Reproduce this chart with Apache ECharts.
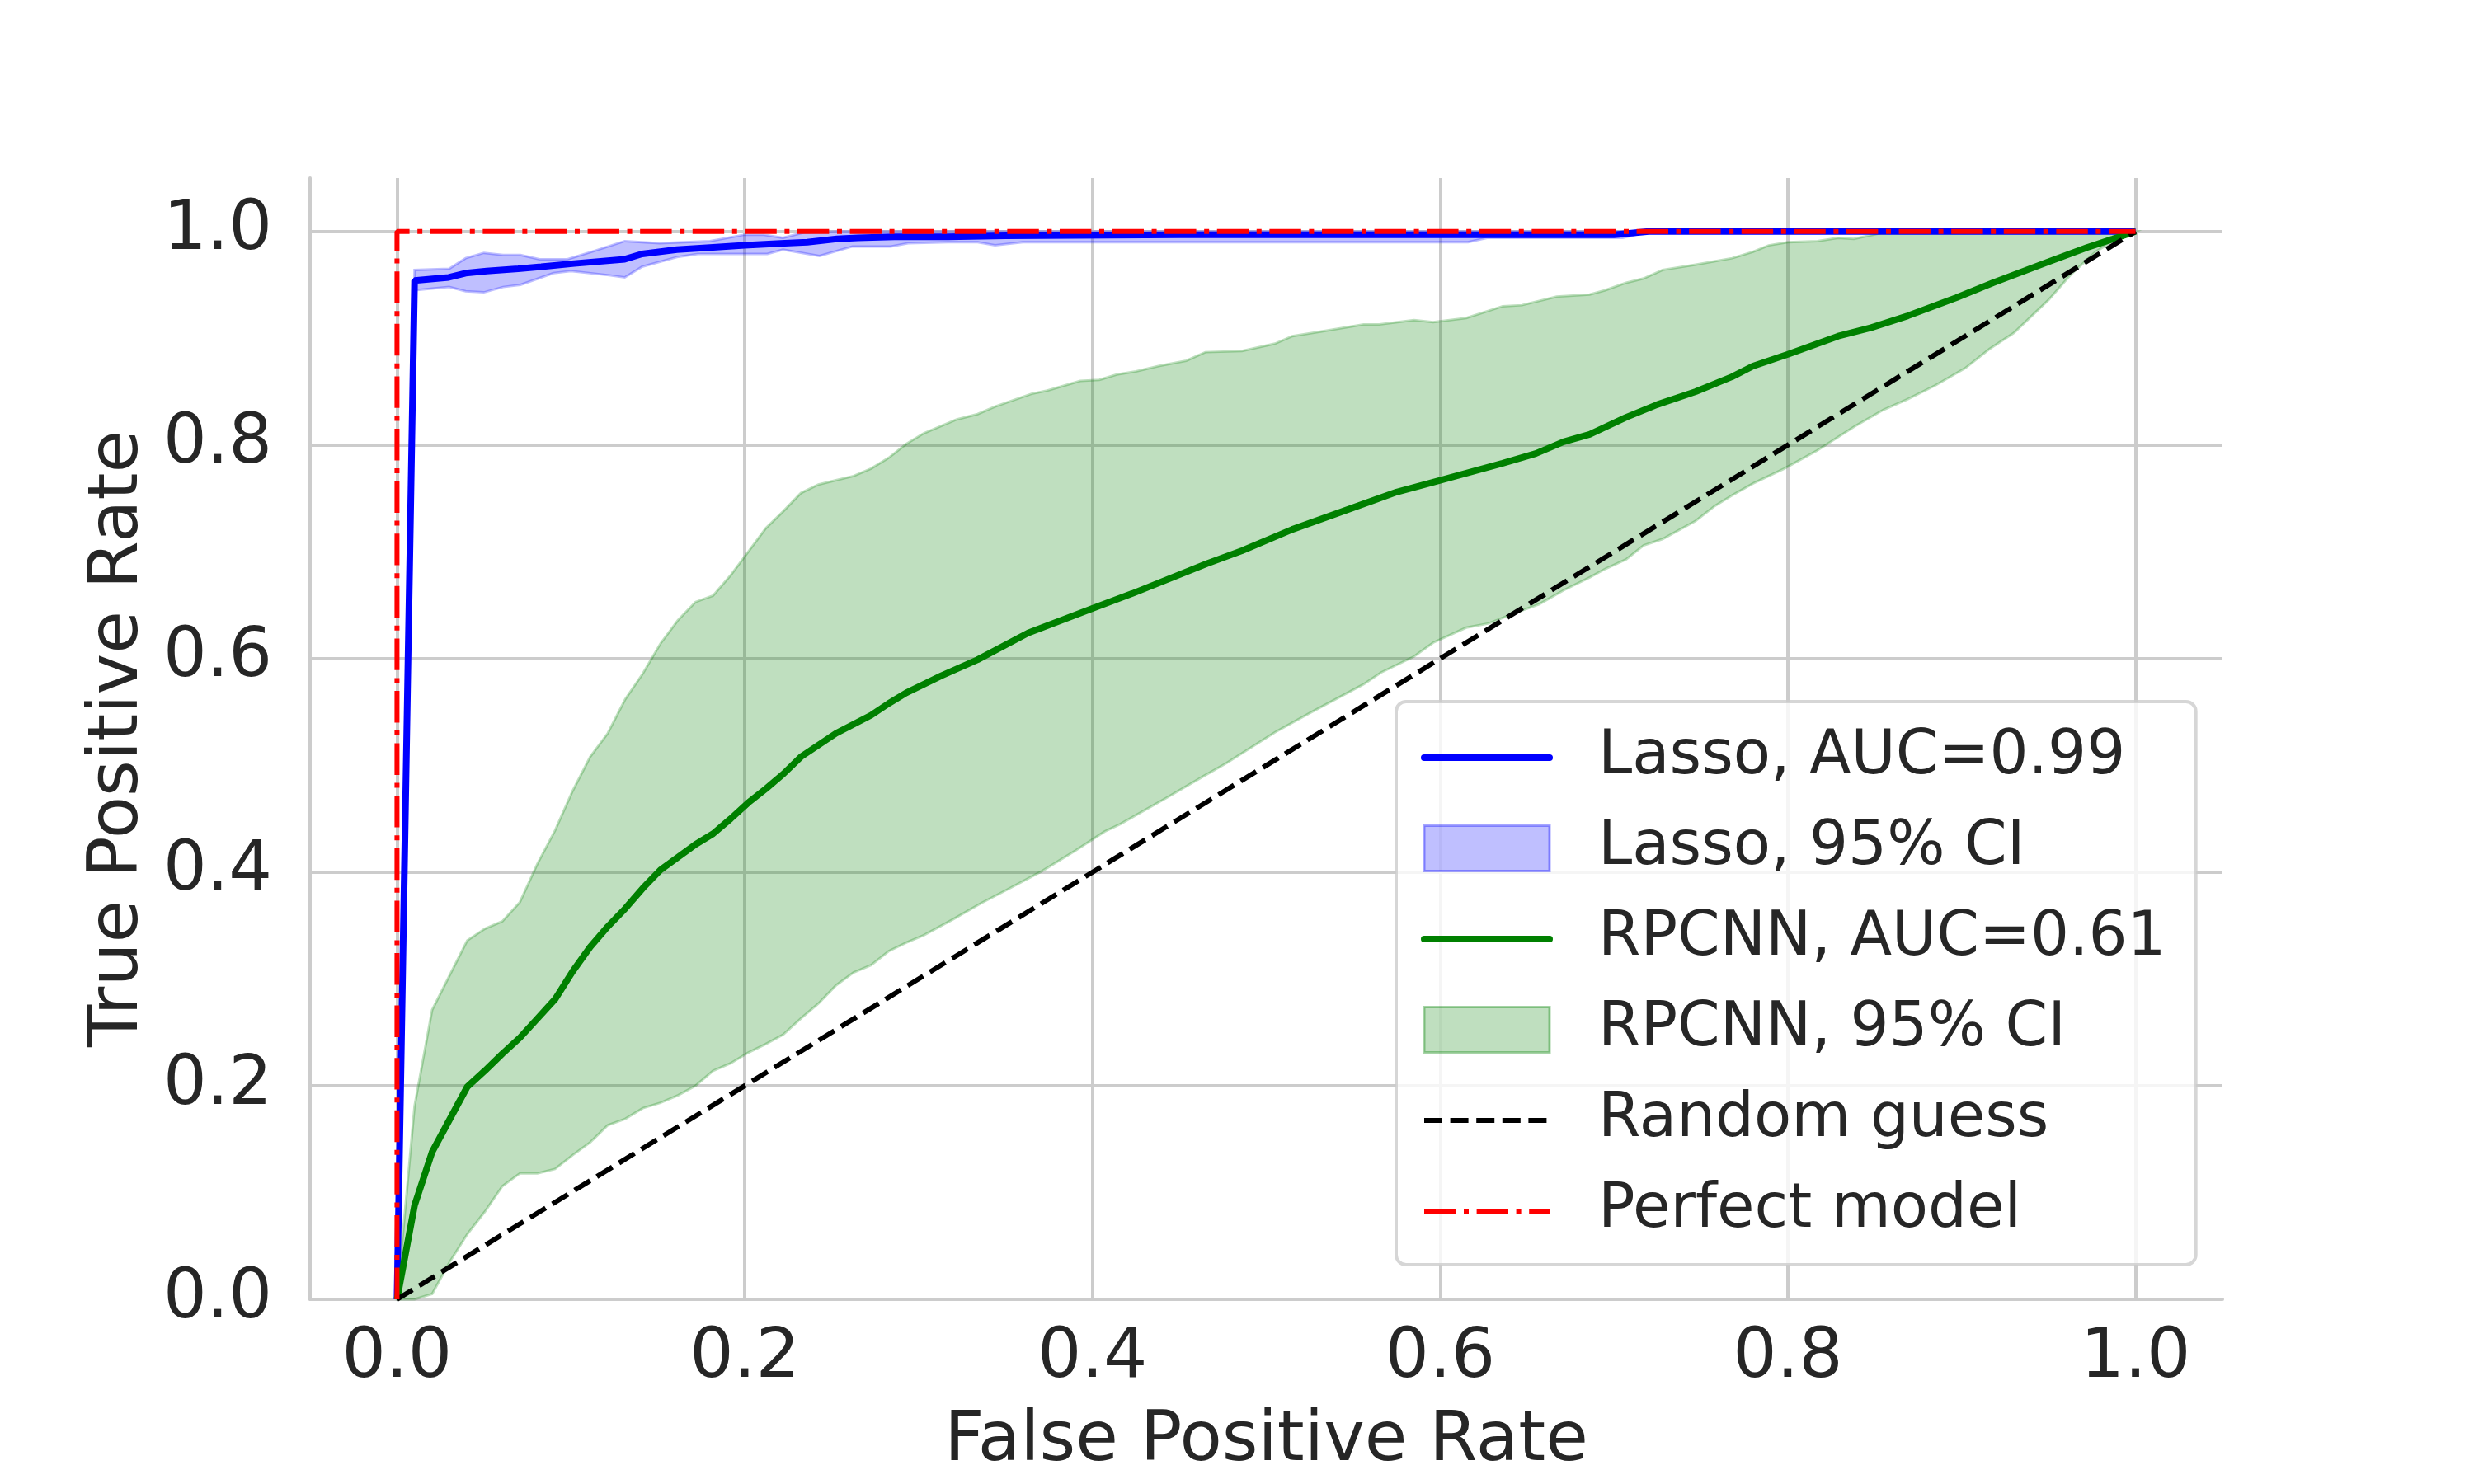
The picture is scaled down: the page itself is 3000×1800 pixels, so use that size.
<!DOCTYPE html>
<html>
<head>
<meta charset="utf-8">
<script src="https://cdn.jsdelivr.net/npm/echarts@6/dist/echarts.min.js"></script>
<style>
  html, body { margin: 0; padding: 0; background: #fff; }
  #roc { width: 3000px; height: 1800px; }
</style>
</head>
<body>
<div id="roc"></div>
<script>
// ROC curves, values as [fpr, tpr]
const lassoMean = [[0,0],[0.0101,0.954],[0.0298,0.957],[0.0395,0.961],[0.0516,0.963],[0.0697,0.965],[0.083,0.967],[0.102,0.970],[0.131,0.974],[0.141,0.979],[0.161,0.983],[0.180,0.985],[0.2,0.987],[0.223,0.989],[0.236,0.990],[0.253,0.993],[0.265,0.994],[0.286,0.995],[0.317,0.995],[0.35,0.996],[0.45,0.997],[0.70,0.997],[0.72,1.0],[1.0,1.0]]
const lassoUpper = [[0,0],[0.0101,0.964],[0.030,0.965],[0.0395,0.975],[0.050,0.980],[0.061,0.978],[0.071,0.978],[0.082,0.974],[0.098,0.974],[0.112,0.981],[0.131,0.991],[0.151,0.989],[0.180,0.991],[0.2,0.997],[0.211,0.997],[0.222,0.994],[0.234,0.999],[0.253,1.0],[1.0,1.0]]
const lassoLower = [[0,0],[0.0101,0.945],[0.030,0.948],[0.0395,0.944],[0.050,0.943],[0.061,0.948],[0.071,0.950],[0.090,0.961],[0.100,0.963],[0.122,0.959],[0.131,0.957],[0.141,0.967],[0.161,0.976],[0.173,0.979],[0.2,0.979],[0.213,0.979],[0.222,0.983],[0.243,0.977],[0.262,0.986],[0.284,0.986],[0.294,0.989],[0.317,0.990],[0.334,0.990],[0.344,0.987],[0.36,0.990],[0.616,0.990],[0.627,0.994],[0.705,0.994],[0.72,1.0],[1.0,1.0]]

const rpcnnMean = [[0,0],[0.0101,0.088],[0.0202,0.138],[0.0404,0.199],[0.0505,0.214],[0.0606,0.230],[0.0707,0.245],[0.0808,0.263],[0.0909,0.281],[0.101,0.307],[0.1111,0.330],[0.1212,0.349],[0.1313,0.366],[0.1414,0.385],[0.1515,0.402],[0.1616,0.414],[0.1717,0.426],[0.1818,0.436],[0.1919,0.450],[0.202,0.465],[0.2121,0.478],[0.2222,0.492],[0.2323,0.508],[0.2424,0.519],[0.2525,0.530],[0.2727,0.547],[0.2828,0.558],[0.2929,0.568],[0.3131,0.584],[0.334,0.599],[0.363,0.624],[0.4,0.647],[0.423,0.661],[0.466,0.689],[0.486,0.701],[0.515,0.721],[0.563,0.749],[0.575,0.756],[0.6,0.767],[0.636,0.783],[0.655,0.792],[0.671,0.803],[0.686,0.810],[0.707,0.826],[0.725,0.838],[0.747,0.850],[0.768,0.864],[0.780,0.874],[0.8,0.885],[0.829,0.902],[0.848,0.910],[0.869,0.921],[0.897,0.938],[0.918,0.952],[0.949,0.971],[0.972,0.985],[0.987,0.993],[1.0,1.0]]
const rpcnnUpper = [[0,0],[0.0101,0.181],[0.0202,0.271],[0.0404,0.336],[0.0505,0.347],[0.0606,0.354],[0.0707,0.372],[0.0808,0.408],[0.0909,0.439],[0.101,0.476],[0.1111,0.508],[0.1212,0.530],[0.1313,0.562],[0.1414,0.586],[0.1515,0.614],[0.1616,0.636],[0.1717,0.653],[0.1818,0.659],[0.1919,0.678],[0.202,0.700],[0.2121,0.722],[0.2222,0.738],[0.2323,0.755],[0.2424,0.763],[0.2525,0.767],[0.2626,0.771],[0.2727,0.778],[0.2828,0.788],[0.2929,0.801],[0.303,0.811],[0.322,0.824],[0.334,0.829],[0.344,0.836],[0.365,0.848],[0.374,0.851],[0.393,0.860],[0.404,0.861],[0.414,0.866],[0.425,0.869],[0.438,0.874],[0.454,0.879],[0.465,0.887],[0.486,0.888],[0.505,0.895],[0.515,0.902],[0.534,0.907],[0.556,0.913],[0.565,0.913],[0.585,0.917],[0.596,0.915],[0.615,0.919],[0.636,0.930],[0.647,0.931],[0.667,0.939],[0.686,0.941],[0.695,0.945],[0.707,0.952],[0.717,0.956],[0.728,0.964],[0.747,0.969],[0.768,0.975],[0.780,0.981],[0.789,0.987],[0.8,0.990],[0.817,0.991],[0.829,0.994],[0.838,0.993],[0.855,0.999],[0.87,1.0],[1.0,1.0]]
const rpcnnLower = [[0,0],[0.0101,0.0],[0.0202,0.005],[0.0303,0.035],[0.0404,0.061],[0.0505,0.082],[0.0606,0.106],[0.0707,0.118],[0.0808,0.118],[0.0909,0.122],[0.101,0.135],[0.1111,0.147],[0.1212,0.163],[0.1313,0.169],[0.1414,0.179],[0.1515,0.184],[0.1616,0.191],[0.1717,0.200],[0.1818,0.214],[0.1919,0.221],[0.202,0.231],[0.2121,0.239],[0.2222,0.248],[0.2323,0.263],[0.2424,0.277],[0.2525,0.294],[0.2626,0.306],[0.2727,0.313],[0.2828,0.326],[0.2929,0.334],[0.303,0.341],[0.320,0.356],[0.336,0.371],[0.349,0.382],[0.371,0.401],[0.390,0.420],[0.407,0.438],[0.416,0.445],[0.443,0.470],[0.464,0.490],[0.477,0.502],[0.505,0.531],[0.525,0.549],[0.556,0.576],[0.566,0.587],[0.585,0.602],[0.596,0.615],[0.615,0.629],[0.628,0.633],[0.642,0.642],[0.657,0.651],[0.671,0.664],[0.686,0.676],[0.695,0.684],[0.707,0.693],[0.717,0.706],[0.728,0.712],[0.747,0.729],[0.758,0.743],[0.768,0.753],[0.780,0.764],[0.798,0.778],[0.817,0.795],[0.838,0.817],[0.855,0.833],[0.869,0.843],[0.885,0.856],[0.902,0.872],[0.916,0.890],[0.930,0.905],[0.950,0.936],[0.963,0.960],[0.977,0.981],[0.989,0.993],[1.0,1.0]]

const randomGuess = [[0,0],[1,1]]
const perfectModel = [[0,0],[0,1],[1,1]]

const seriesNames = ['Lasso, AUC=0.99', 'Lasso, 95% CI', 'RPCNN, AUC=0.61', 'RPCNN, 95% CI', 'Random guess', 'Perfect model']

const textColor = '#262626'
const font = 'DejaVu Sans'
const dashed = [22, 9.6]
const dashDot = [38.4, 9.6, 6, 9.6]

// shaded confidence band: upper edge forward, lower edge back
function band(name, upper, lower, rgb) {
    const ring = upper.concat(lower.slice().reverse())
    return {
        type: 'custom',
        name: name,
        data: ring,
        encode: { x: 0, y: 1 },
        renderItem: function (params, api) {
            if (params.dataIndex !== 0) return
            const pts = ring.map(p => api.coord(p))
            return {
                type: 'polygon',
                shape: { points: pts },
                style: {
                    fill: 'rgba(' + rgb + ',0.25)',
                    stroke: 'rgba(' + rgb + ',0.25)',
                    lineWidth: 3
                }
            }
        }
    }
}

function curve(name, data, color, width, dash) {
    return {
        type: 'line',
        name: name,
        data: data,
        showSymbol: false,
        symbol: 'none',
        lineStyle: { color: color, width: width, type: dash || 'solid', cap: 'butt' },
        itemStyle: { color: color }
    }
}

// legend entry drawn as a bare line (no marker)
function lineKey(name, color, width, dash) {
    return {
        name: name,
        itemStyle: { opacity: 0 },
        lineStyle: { color: color, width: width, type: dash || 'solid', cap: dash ? 'butt' : 'round' }
    }
}

function patchKey(name, rgb) {
    return {
        name: name,
        icon: 'rect',
        itemStyle: { color: 'rgba(' + rgb + ',0.25)', borderColor: 'rgba(' + rgb + ',0.35)', borderWidth: 3 }
    }
}

const axisCommon = {
    type: 'value',
    splitNumber: 5,
    minInterval: 0.2,
    maxInterval: 0.2,
    axisLine: { show: true, onZero: false, lineStyle: { color: '#cccccc', width: 4 } },
    axisTick: { show: false },
    splitLine: { show: true, showMinLine: false, showMaxLine: false, lineStyle: { color: '#cccccc', width: 4 } },
    nameLocation: 'middle',
    nameTextStyle: { fontFamily: font, fontSize: 84, color: textColor }
}

let option = {
    animation: false,
    backgroundColor: '#ffffff',
    grid: { left: 376, right: 305, top: 216, bottom: 224, containLabel: false },
    xAxis: Object.assign({}, axisCommon, {
        min: -0.05,
        max: 1.05,
        name: 'False Positive Rate',
        nameGap: 131,
        axisLabel: {
            showMinLabel: false, showMaxLabel: false, margin: 30,
            fontFamily: font, fontSize: 84, color: textColor,
            formatter: v => v.toFixed(1)
        }
    }),
    yAxis: Object.assign({}, axisCommon, {
        min: 0,
        max: 1.05,
        name: 'True Positive Rate',
        nameGap: 190,
        axisLabel: {
            showMinLabel: true, showMaxLabel: false, margin: 46,
            fontFamily: font, fontSize: 83, color: textColor,
            formatter: v => v.toFixed(1)
        }
    }),
    legend: {
        orient: 'vertical',
        left: 1693,
        top: 851,
        selectedMode: false,
        itemWidth: 152,
        itemHeight: 55,
        itemGap: 36,
        padding: [31, 36, 28, 30],
        backgroundColor: 'rgba(255,255,255,0.8)',
        borderColor: 'rgba(204,204,204,0.8)',
        borderWidth: 4,
        borderRadius: 12,
        textStyle: { fontFamily: font, fontSize: 74, color: textColor, padding: [0, 0, 0, 54] },
        data: [
            lineKey(seriesNames[0], '#0000ff', 8),
            patchKey(seriesNames[1], '0,0,255'),
            lineKey(seriesNames[2], '#008000', 8),
            patchKey(seriesNames[3], '0,128,0'),
            lineKey(seriesNames[4], '#000000', 6, dashed),
            lineKey(seriesNames[5], '#ff0000', 6, dashDot)
        ]
    },
    series: [
        band(seriesNames[1], lassoUpper, lassoLower, '0,0,255'),
        curve(seriesNames[0], lassoMean, '#0000ff', 8),
        band(seriesNames[3], rpcnnUpper, rpcnnLower, '0,128,0'),
        curve(seriesNames[2], rpcnnMean, '#008000', 8),
        curve(seriesNames[4], randomGuess, '#000000', 6, dashed),
        curve(seriesNames[5], perfectModel, '#ff0000', 6, dashDot)
    ]
}

let chart = echarts.init(document.getElementById('roc'))
chart.setOption(option)
</script>
</body>
</html>
